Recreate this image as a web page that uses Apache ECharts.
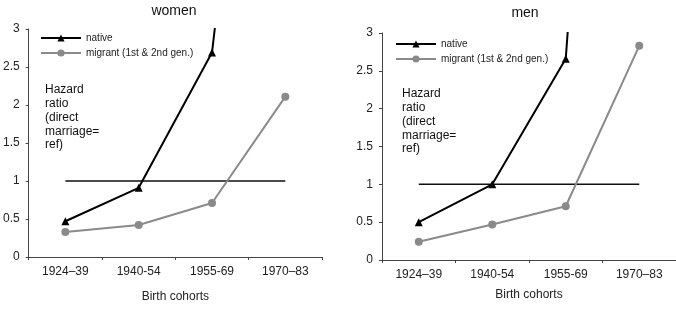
<!DOCTYPE html>
<html>
<head>
<meta charset="utf-8">
<script src="https://cdn.jsdelivr.net/npm/echarts@6/dist/echarts.min.js"></script>
<style>
	html, body { margin: 0; padding: 0; background: #fff; }
	#chart { width: 676px; height: 310px; }
</style>
</head>
<body>
<div id="chart"></div>
<script>
var cohorts = ['1924\u201339', '1940-54', '1955-69', '1970\u201383'];
var womenNative = [0.47, 0.91, 2.69, 11];
var womenMigrant = [0.33, 0.42, 0.71, 2.11];
var menNative = [0.5, 1.0, 2.66, 16];
var menMigrant = [0.24, 0.47, 0.71, 2.83];
var refLine = [1, 1, 1, 1];
var yTicks = ['0', '0.5', '1', '1.5', '2', '2.5', '3'];

var nativeName = 'native';
var migrantName = 'migrant (1st & 2nd gen.)';
var font = 'Liberation Sans, Arial, sans-serif';
var hazardText = 'Hazard\nratio\n(direct\nmarriage=\nref)';

function xAxisFor(index, gap) {
	return {
		type: 'category',
		gridIndex: index,
		data: cohorts,
		boundaryGap: true,
		name: 'Birth cohorts',
		nameLocation: 'middle',
		nameGap: gap,
		nameTextStyle: { fontFamily: font, fontSize: 12, color: '#222' },
		axisLine: { lineStyle: { color: '#444', width: 1 } },
		axisTick: { show: true, length: 3, lineStyle: { color: '#444' } },
		axisLabel: { fontFamily: font, fontSize: 12, color: '#222', margin: 9 },
		splitLine: { show: false }
	};
}

function yAxisFor(index) {
	return {
		type: 'value',
		gridIndex: index,
		min: 0,
		max: 3,
		interval: 0.5,
		axisLine: { show: true, lineStyle: { color: '#444', width: 1 } },
		axisTick: { show: true, length: 3, lineStyle: { color: '#444' } },
		axisLabel: {
			fontFamily: font, fontSize: 12, color: '#222', margin: 9,
			formatter: function(v) { return yTicks[Math.round(v * 2)]; }
		},
		splitLine: { show: false }
	};
}

function seriesFor(index, nativeData, migrantData) {
	return [{
		name: 'ref',
		type: 'line',
		xAxisIndex: index,
		yAxisIndex: index,
		data: refLine,
		symbol: 'none',
		lineStyle: { color: '#111', width: 1.5 },
		itemStyle: { color: '#111' },
		silent: true,
		z: 1
	}, {
		name: migrantName,
		type: 'line',
		xAxisIndex: index,
		yAxisIndex: index,
		data: migrantData,
		symbol: 'circle',
		symbolSize: 8,
		clip: true,
		lineStyle: { color: '#8a8a8a', width: 2 },
		itemStyle: { color: '#8a8a8a' },
		z: 2
	}, {
		name: nativeName,
		type: 'line',
		xAxisIndex: index,
		yAxisIndex: index,
		data: nativeData,
		symbol: 'triangle',
		symbolSize: 8,
		clip: true,
		lineStyle: { color: '#000', width: 2 },
		itemStyle: { color: '#000' },
		z: 3
	}];
}

function legendFor(left, top) {
	return {
		data: [nativeName, migrantName],
		orient: 'vertical',
		left: left,
		top: top,
		padding: 0,
		itemWidth: 40,
		itemHeight: 9,
		itemGap: 5,
		textStyle: { fontFamily: font, fontSize: 10, color: '#222' }
	};
}

var chart = echarts.init(document.getElementById('chart'));

var option = {
	animation: false,
	backgroundColor: '#fff',
	title: [{
		text: 'women',
		left: 170,
		top: 0,
		padding: 4,
		textAlign: 'center',
		textStyle: { fontFamily: font, fontSize: 14, fontWeight: 'normal', color: '#111' }
	}, {
		text: 'men',
		left: 521,
		top: 2,
		padding: 4,
		textAlign: 'center',
		textStyle: { fontFamily: font, fontSize: 14, fontWeight: 'normal', color: '#111' }
	}],
	legend: [legendFor(40, 33), legendFor(395, 39)],
	grid: [
		{ left: 25, top: 29, width: 297, height: 228 },
		{ left: 382, top: 33, width: 296, height: 227 }
	],
	xAxis: [xAxisFor(0, 34), xAxisFor(1, 29)],
	yAxis: [yAxisFor(0), yAxisFor(1)],
	graphic: [{
		type: 'text',
		left: 45,
		top: 83,
		style: { text: hazardText, font: '12px ' + font, fill: '#111', lineHeight: 13.8 }
	}, {
		type: 'text',
		left: 402,
		top: 87,
		style: { text: hazardText, font: '12px ' + font, fill: '#111', lineHeight: 13.8 }
	}],
	series: seriesFor(0, womenNative, womenMigrant).concat(seriesFor(1, menNative, menMigrant))
};

chart.setOption(option);
</script>
</body>
</html>
